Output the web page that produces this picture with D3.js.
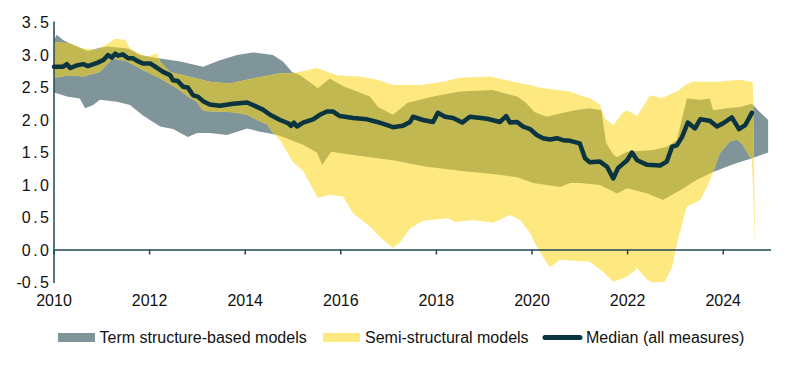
<!DOCTYPE html>
<html>
<head>
<meta charset="utf-8">
<script src="https://cdn.jsdelivr.net/npm/d3@7"></script>
<style>
  html, body { margin: 0; padding: 0; background: #fff; }
  svg { display: block; font-family: "Liberation Sans", Arial, Helvetica, sans-serif; }
</style>
</head>
<body>
<svg id="chart" width="792" height="365"></svg>
<script>
// ---- Data ----
const yTicks = [3.5, 3.0, 2.5, 2.0, 1.5, 1.0, 0.5, 0.0, -0.5];
const xTicks = [2010, 2012, 2014, 2016, 2018, 2020, 2022, 2024];

// Term structure-based models: band bounds [year, value]
const tsUpper = [[2010.00,3.24],[2010.06,3.31],[2010.19,3.23],[2010.27,3.20],[2010.48,3.13],[2010.71,3.06],[2010.96,3.11],[2011.11,3.13],[2011.55,3.10],[2011.80,3.00],[2012.18,2.95],[2012.64,2.90],[2013.12,2.82],[2013.47,2.92],[2013.83,3.00],[2014.16,3.04],[2014.58,3.00],[2014.79,2.90],[2014.98,2.74],[2015.15,2.69],[2015.52,2.49],[2015.77,2.64],[2016.05,2.52],[2016.26,2.46],[2016.61,2.36],[2016.78,2.20],[2017.09,2.08],[2017.39,2.26],[2017.93,2.36],[2018.49,2.44],[2019.18,2.46],[2019.69,2.36],[2019.85,2.28],[2020.06,2.12],[2020.31,2.05],[2020.59,2.10],[2020.90,2.15],[2021.21,2.18],[2021.45,2.15],[2021.55,1.65],[2021.70,1.47],[2021.78,1.43],[2021.99,1.51],[2022.53,1.54],[2022.82,1.59],[2023.03,1.69],[2023.24,2.33],[2023.52,2.31],[2023.72,2.33],[2023.79,2.15],[2024.08,2.18],[2024.35,2.20],[2024.60,2.25],[2024.77,2.12],[2024.94,2.00]];
const tsLower = [[2010.00,2.42],[2010.06,2.41],[2010.27,2.36],[2010.54,2.33],[2010.65,2.18],[2010.82,2.23],[2010.96,2.31],[2011.32,2.28],[2011.59,2.23],[2011.86,2.07],[2012.22,1.90],[2012.49,1.86],[2012.80,1.74],[2012.99,1.80],[2013.26,1.80],[2013.62,1.77],[2014.04,1.87],[2014.31,1.82],[2014.46,1.80],[2014.67,1.77],[2014.79,1.74],[2015.21,1.62],[2015.50,1.50],[2015.61,1.31],[2015.80,1.51],[2016.26,1.46],[2016.76,1.41],[2017.09,1.38],[2017.80,1.28],[2018.49,1.22],[2019.18,1.17],[2019.69,1.12],[2020.02,1.03],[2020.59,0.97],[2020.80,1.03],[2021.00,1.03],[2021.42,1.00],[2021.78,0.87],[2021.99,0.95],[2022.41,0.87],[2022.74,0.77],[2023.10,0.92],[2023.45,1.08],[2023.79,1.20],[2024.21,1.32],[2024.60,1.41],[2024.94,1.50]];

// Semi-structural models: band bounds [year, value]
const ssUpper = [[2010.00,3.20],[2010.33,3.18],[2010.61,3.10],[2010.90,3.08],[2011.07,3.15],[2011.28,3.25],[2011.49,3.23],[2011.59,3.10],[2011.76,3.03],[2011.95,2.97],[2012.15,3.03],[2012.22,2.90],[2012.43,2.74],[2012.70,2.69],[2012.99,2.64],[2013.26,2.59],[2013.68,2.56],[2014.16,2.64],[2014.73,2.72],[2015.00,2.72],[2015.50,2.80],[2015.92,2.69],[2016.40,2.67],[2016.76,2.62],[2017.09,2.54],[2017.66,2.54],[2018.14,2.59],[2018.49,2.65],[2019.12,2.67],[2019.60,2.59],[2019.96,2.54],[2020.23,2.49],[2020.80,2.44],[2021.00,2.38],[2021.21,2.34],[2021.42,2.24],[2021.53,2.02],[2021.70,1.92],[2021.88,2.10],[2021.99,2.15],[2022.20,2.06],[2022.47,2.38],[2022.72,2.34],[2023.03,2.44],[2023.24,2.55],[2023.37,2.59],[2023.87,2.59],[2024.35,2.62],[2024.62,2.58],[2024.67,0.05]];
const ssLower = [[2010.00,2.65],[2010.33,2.69],[2010.61,2.67],[2010.96,2.74],[2011.23,2.95],[2011.53,2.90],[2011.86,2.77],[2012.22,2.64],[2012.57,2.49],[2012.85,2.34],[2012.99,2.28],[2013.12,2.14],[2013.75,2.12],[2014.04,2.08],[2014.25,2.00],[2014.46,1.93],[2014.56,1.82],[2014.73,1.69],[2015.00,1.35],[2015.21,1.22],[2015.52,0.80],[2015.77,0.85],[2016.05,0.82],[2016.26,0.56],[2016.61,0.36],[2016.82,0.20],[2017.09,0.03],[2017.24,0.12],[2017.45,0.33],[2017.72,0.45],[2018.24,0.49],[2018.39,0.43],[2018.77,0.46],[2019.18,0.42],[2019.54,0.54],[2019.75,0.46],[2019.96,0.26],[2020.10,0.05],[2020.31,-0.20],[2020.38,-0.26],[2020.59,-0.15],[2021.21,-0.18],[2021.49,-0.34],[2021.70,-0.49],[2021.99,-0.41],[2022.20,-0.28],[2022.41,-0.46],[2022.53,-0.50],[2022.78,-0.49],[2022.93,-0.26],[2023.05,0.15],[2023.24,0.67],[2023.52,0.77],[2023.66,0.97],[2023.79,1.20],[2023.93,1.49],[2024.14,1.67],[2024.29,1.70],[2024.41,1.62],[2024.56,1.43],[2024.60,1.40],[2024.67,0.03]];

// Median (all measures) [year, value]
const median = [[2010.00,2.82],[2010.19,2.82],[2010.27,2.86],[2010.34,2.80],[2010.48,2.84],[2010.61,2.86],[2010.71,2.83],[2010.90,2.88],[2011.03,2.92],[2011.13,3.00],[2011.21,2.96],[2011.28,3.02],[2011.34,2.99],[2011.44,3.01],[2011.55,2.95],[2011.65,2.95],[2011.74,2.91],[2011.86,2.87],[2012.01,2.87],[2012.16,2.80],[2012.28,2.74],[2012.43,2.69],[2012.49,2.61],[2012.59,2.60],[2012.70,2.51],[2012.80,2.50],[2012.91,2.38],[2013.01,2.36],[2013.12,2.29],[2013.26,2.24],[2013.47,2.22],[2013.75,2.25],[2014.04,2.27],[2014.16,2.23],[2014.37,2.16],[2014.52,2.08],[2014.73,2.00],[2014.90,1.95],[2014.96,1.91],[2015.02,1.96],[2015.08,1.90],[2015.21,1.96],[2015.42,2.01],[2015.56,2.08],[2015.71,2.13],[2015.84,2.13],[2015.98,2.06],[2016.26,2.03],[2016.55,2.01],[2016.76,1.97],[2016.97,1.92],[2017.09,1.89],[2017.30,1.91],[2017.45,1.97],[2017.51,2.05],[2017.72,2.00],[2017.93,1.97],[2018.03,2.11],[2018.18,2.05],[2018.35,2.03],[2018.54,1.96],[2018.70,2.05],[2019.06,2.02],[2019.33,1.97],[2019.46,2.06],[2019.54,1.96],[2019.69,1.97],[2019.81,1.90],[2019.96,1.86],[2020.10,1.77],[2020.23,1.72],[2020.38,1.70],[2020.52,1.72],[2020.65,1.69],[2020.80,1.68],[2021.00,1.64],[2021.11,1.41],[2021.21,1.35],[2021.42,1.36],[2021.57,1.28],[2021.70,1.10],[2021.80,1.26],[2021.99,1.38],[2022.09,1.50],[2022.20,1.38],[2022.41,1.31],[2022.68,1.30],[2022.82,1.36],[2022.93,1.59],[2023.03,1.61],[2023.14,1.74],[2023.26,1.96],[2023.41,1.87],[2023.52,2.01],[2023.72,1.99],[2023.87,1.90],[2024.00,1.95],[2024.18,2.04],[2024.33,1.86],[2024.46,1.92],[2024.60,2.11]];

const legendItems = ["Term structure-based models", "Semi-structural models", "Median (all measures)"];

// ---- Styling ----
const C_GRAY = "#7f959a";
const C_YELLOW = "#fee981";
const C_OLIVE = "#c2b851";
const C_MEDIAN = "#0b3441";
const C_AXIS = "#1e4757";

const svg = d3.select("#chart");
const x = d3.scaleLinear().domain([2010, 2025]).range([54, 771]);
const y = d3.scaleLinear().domain([-0.5, 3.5]).range([282.5, 22.5]);

const line = d3.line().x(d => x(d[0])).y(d => y(d[1]));
const band = (upper, lower) => line(upper.concat(lower.slice().reverse())) + "Z";

const defs = svg.append("defs");
defs.append("clipPath").attr("id", "tsClip")
  .append("path").attr("d", band(tsUpper, tsLower));

// Bands
svg.append("path").attr("d", band(tsUpper, tsLower)).attr("fill", C_GRAY);
svg.append("path").attr("d", band(ssUpper, ssLower)).attr("fill", C_YELLOW);
svg.append("path").attr("d", band(ssUpper, ssLower)).attr("fill", C_OLIVE)
  .attr("clip-path", "url(#tsClip)");

// Axes
svg.append("line").attr("x1", x(2010)).attr("x2", x(2025))
  .attr("y1", y(0)).attr("y2", y(0))
  .attr("stroke", C_AXIS).attr("stroke-width", 1.5);
svg.append("line").attr("x1", x(2010)).attr("x2", x(2010))
  .attr("y1", y(3.5) - 1).attr("y2", y(-0.5) + 0.5)
  .attr("stroke", C_AXIS).attr("stroke-width", 1.5);

svg.selectAll(".xtick").data(xTicks).enter().append("line")
  .attr("x1", d => x(d)).attr("x2", d => x(d))
  .attr("y1", y(0)).attr("y2", y(0) + 4.5)
  .attr("stroke", C_AXIS).attr("stroke-width", 1.5);

svg.selectAll(".xlab").data(xTicks).enter().append("text")
  .attr("x", d => x(d)).attr("y", 306)
  .attr("text-anchor", "middle").attr("font-size", 16).attr("fill", "#111")
  .text(d => d);

// y labels: integer part, then the decimal point and digit with a little extra spacing
const ylab = svg.selectAll(".ylab").data(yTicks).enter().append("text")
  .attr("x", 49).attr("y", d => y(d)).attr("dy", "0.36em")
  .attr("text-anchor", "end").attr("font-size", 16).attr("fill", "#111");
ylab.each(function(d) {
  const s = d3.format(".1f")(d).replace("−", "-");
  const parts = s.split(".");
  const t = d3.select(this);
  t.append("tspan").text(parts[0]);
  t.append("tspan").attr("dx", 2.5).text(".");
  t.append("tspan").attr("dx", 2.5).text(parts[1]);
});

// Median line
svg.append("path").attr("d", line(median))
  .attr("fill", "none").attr("stroke", C_MEDIAN)
  .attr("stroke-width", 4.5).attr("stroke-linejoin", "round").attr("stroke-linecap", "round");

// Legend
const ly = 337.5;
const lg = svg.append("g");
lg.append("rect").attr("x", 58).attr("y", ly - 4.5).attr("width", 37).attr("height", 9).attr("fill", C_GRAY);
lg.append("text").attr("x", 99.5).attr("y", ly).attr("dy", "0.36em").attr("font-size", 16).attr("fill", "#111").text(legendItems[0]);
lg.append("rect").attr("x", 323).attr("y", ly - 4.5).attr("width", 37).attr("height", 9).attr("fill", C_YELLOW);
lg.append("text").attr("x", 365).attr("y", ly).attr("dy", "0.36em").attr("font-size", 16).attr("fill", "#111").text(legendItems[1]);
lg.append("line").attr("x1", 545).attr("x2", 580).attr("y1", ly).attr("y2", ly)
  .attr("stroke", C_MEDIAN).attr("stroke-width", 5).attr("stroke-linecap", "round");
lg.append("text").attr("x", 586).attr("y", ly).attr("dy", "0.36em").attr("font-size", 16).attr("fill", "#111").text(legendItems[2]);
</script>
</body>
</html>
